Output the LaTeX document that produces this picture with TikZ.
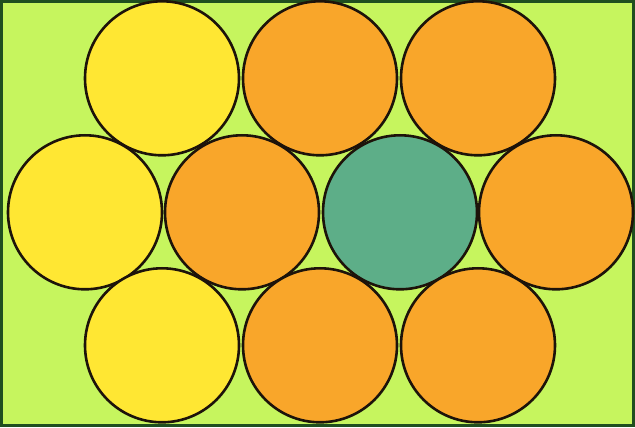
\documentclass[tikz,border=0pt]{standalone}
\usepackage{tikz}
\definecolor{bgLime}{HTML}{C6F55E}
\definecolor{frameGreen}{HTML}{1F4F1F}
\definecolor{ballYellow}{HTML}{FFE733}
\definecolor{ballOrange}{HTML}{F9A62A}
\definecolor{ballGreen}{HTML}{5DAE88}
\tikzset{
  ball/.style={circle, draw=black!85!brown, line width=2.6pt, minimum size=154pt, inner sep=0pt},
}
\begin{document}
\begin{tikzpicture}[x=1pt, y=-1pt]
			\fill[bgLime] (0,0) rectangle (635,427);
			\draw[frameGreen, line width=3pt] (1.5,1.5) rectangle (633.5,425.5);
			% top row
			\foreach \px/\col [count=\i] in {162/ballYellow, 320/ballOrange, 478/ballOrange}
				\node[ball, fill=\col] (top\i) at (\px,78) {};
			% middle row
			\foreach \px/\col [count=\i] in {85/ballYellow, 242/ballOrange, 400/ballGreen, 556/ballOrange}
				\node[ball, fill=\col] (mid\i) at (\px,212) {};
			% bottom row
			\foreach \px/\col [count=\i] in {162/ballYellow, 320/ballOrange, 478/ballOrange}
				\node[ball, fill=\col] (bot\i) at (\px,345) {};
			\useasboundingbox (0,0) rectangle (635,427);
		\end{tikzpicture}
\end{document}
